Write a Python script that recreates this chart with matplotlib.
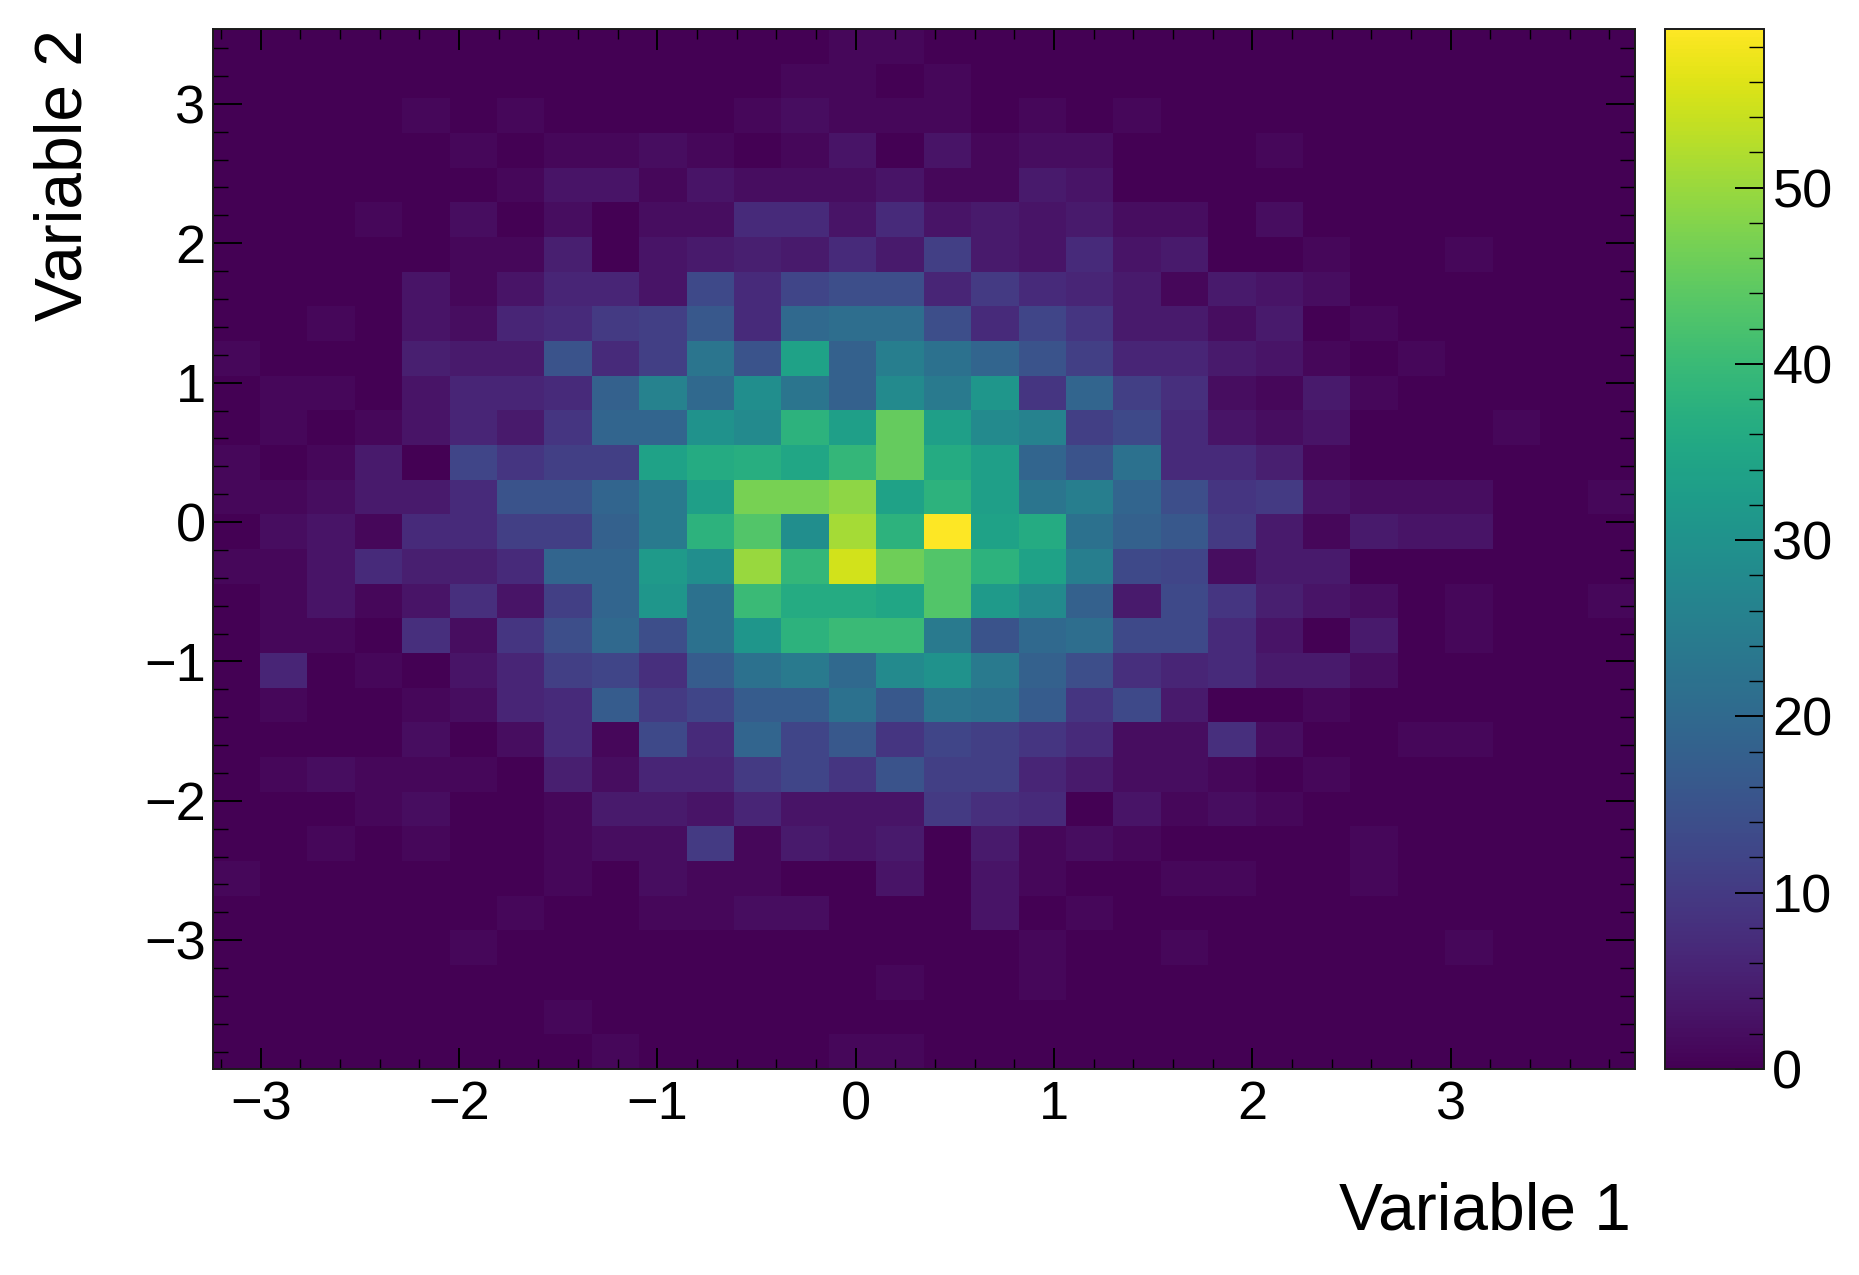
import numpy as np
import matplotlib
matplotlib.use("Agg")
import matplotlib.pyplot as plt
from matplotlib.ticker import MultipleLocator

plt.rcParams['font.family'] = ['Liberation Sans', 'DejaVu Sans']

# Counts per bin, top row first
counts = [
    [0,0,0,0,0,0,0,0,0,0,0,0,0,1,1,0,0,0,0,0,0,0,0,0,0,0,0,0,0,0],
    [0,0,0,0,0,0,0,0,0,0,0,0,1,1,0,1,0,0,0,0,0,0,0,0,0,0,0,0,0,0],
    [0,0,0,0,1,0,1,0,0,0,0,1,2,1,1,1,0,1,0,1,0,0,0,0,0,0,0,0,0,0],
    [0,0,0,0,0,1,0,1,1,2,1,0,1,3,0,3,1,2,2,0,0,0,1,0,0,0,0,0,0,0],
    [0,0,0,0,0,0,1,3,3,1,3,2,2,2,3,1,1,4,3,0,0,0,0,0,0,0,0,0,0,0],
    [0,0,0,1,0,2,0,2,0,2,2,7,7,3,7,3,4,3,4,2,2,0,2,0,0,0,0,0,0,0],
    [0,0,0,0,0,1,1,5,0,3,4,5,4,7,4,11,4,3,7,3,4,0,0,1,0,0,1,0,0,0],
    [0,0,0,0,3,1,3,6,6,3,13,7,12,14,14,6,10,7,6,4,1,4,3,2,0,0,0,0,0,0],
    [0,0,1,0,3,2,6,7,10,11,16,7,20,21,21,14,7,12,9,4,4,2,4,0,1,0,0,0,0,0],
    [1,0,0,0,5,4,4,15,7,11,23,15,34,18,25,22,19,15,11,6,6,4,3,1,0,1,0,0,0,0],
    [0,1,1,0,3,6,6,7,18,26,20,29,23,18,28,24,31,9,19,11,8,2,1,4,1,0,0,0,0,0],
    [0,1,0,1,3,6,4,9,19,19,30,28,38,33,45,33,28,26,11,13,7,3,2,3,0,0,0,1,0,0],
    [1,0,1,4,0,12,9,11,11,34,36,37,35,39,45,36,33,19,15,22,7,7,5,1,0,0,0,0,0,0],
    [1,1,2,4,4,7,15,15,19,24,33,47,47,49,34,38,33,23,25,19,14,9,10,3,2,2,2,0,0,1],
    [0,2,3,1,7,7,11,11,18,24,38,43,29,51,38,59,34,36,22,18,16,10,4,1,4,3,3,0,0,0],
    [1,1,3,7,5,5,7,19,19,32,29,50,39,55,46,43,38,34,25,13,12,2,4,4,0,0,0,0,0,0],
    [0,1,3,1,3,8,3,11,19,31,22,40,36,36,35,43,32,28,18,4,13,9,5,3,2,0,1,0,0,1],
    [0,1,1,0,8,2,9,14,20,14,22,31,38,40,40,24,15,20,21,13,13,7,3,0,4,0,1,0,0,0],
    [0,6,0,1,0,3,6,11,12,8,17,22,24,20,28,30,24,18,14,8,6,7,4,4,2,0,0,0,0,0],
    [0,1,0,0,1,2,6,7,17,10,12,17,17,22,16,23,22,17,9,13,4,0,0,1,0,0,0,0,0,0],
    [0,0,0,0,2,0,2,7,1,13,7,19,12,16,9,12,11,9,7,2,2,8,2,0,0,1,1,0,0,0],
    [0,1,2,1,1,1,0,5,2,6,6,10,12,9,15,11,11,6,4,2,2,1,0,1,0,0,0,0,0,0],
    [0,0,0,1,2,0,0,1,4,4,3,6,3,3,3,10,8,7,0,3,1,2,1,0,0,0,0,0,0,0],
    [0,0,1,0,1,0,0,1,2,2,10,1,4,3,4,0,4,1,2,1,0,0,0,0,1,0,0,0,0,0],
    [1,0,0,0,0,0,0,1,0,2,1,1,0,0,3,0,3,1,0,0,1,1,0,0,1,0,0,0,0,0],
    [0,0,0,0,0,0,1,0,0,1,1,2,2,0,0,0,3,0,1,0,0,0,0,0,0,0,0,0,0,0],
    [0,0,0,0,0,1,0,0,0,0,0,0,0,0,0,0,0,1,0,0,1,0,0,0,0,0,1,0,0,0],
    [0,0,0,0,0,0,0,0,0,0,0,0,0,0,1,0,0,1,0,0,0,0,0,0,0,0,0,0,0,0],
    [0,0,0,0,0,0,0,1,0,0,0,0,0,0,0,0,0,0,0,0,0,0,0,0,0,0,0,0,0,0],
    [0,0,0,0,0,0,0,0,1,0,0,0,0,1,1,0,0,0,0,0,0,0,0,0,0,0,0,0,0,0],
]
x_range = [-3.243, 3.93]
y_range = [-3.924, 3.537]
z_max = 59
x_label = "Variable 1"
y_label = "Variable 2"

W, H = 1859, 1275
fig = plt.figure(figsize=(W / 100, H / 100), dpi=100)
ax = fig.add_axes([212.5 / W, 1 - 1069 / H, (1635 - 212.5) / W, (1069 - 29) / H])
cax = fig.add_axes([1665 / W, 1 - 1069 / H, (1764 - 1665) / W, (1069 - 29) / H])

x_edges = np.linspace(x_range[0], x_range[1], 31)
y_edges = np.linspace(y_range[1], y_range[0], 31)
mesh = ax.pcolormesh(x_edges, y_edges, np.array(counts), cmap='viridis',
                     vmin=0, vmax=z_max, linewidth=0, rasterized=True)
ax.set_xlim(x_range)
ax.set_ylim(y_range)

# ROOT style ticks, pointing in on all four sides
ax.xaxis.set_major_locator(MultipleLocator(1))
ax.xaxis.set_minor_locator(MultipleLocator(0.2))
ax.yaxis.set_major_locator(MultipleLocator(1))
ax.yaxis.set_minor_locator(MultipleLocator(0.2))
ax.tick_params(axis='x', which='major', direction='in', top=True, length=15, width=1.4,
               labelsize=39, pad=8)
ax.tick_params(axis='x', which='minor', direction='in', top=True, length=7.5, width=1.0)
ax.tick_params(axis='y', which='major', direction='in', right=True, length=21, width=1.4,
               labelsize=39, pad=5)
ax.tick_params(axis='y', which='minor', direction='in', right=True, length=10.5, width=1.0)
for s in ax.spines.values():
    s.set_linewidth(1.4)
    s.set_color('#1a1a1a')

cb = fig.colorbar(mesh, cax=cax)
cb.solids.set_rasterized(True)
cb.set_ticks(np.arange(0, 51, 10))
cax.yaxis.set_minor_locator(MultipleLocator(2))
cax.tick_params(axis='y', which='major', direction='in', right=True, length=21, width=1.4,
                labelsize=39, pad=6)
cax.tick_params(axis='y', which='minor', direction='in', right=True, length=10.5, width=1.0)
cb.outline.set_linewidth(1.4)
cb.outline.set_edgecolor('#1a1a1a')

fig.text(1631 / W, 1 - 1212 / H, x_label, fontsize=47.4, ha='right', va='center')
fig.text(65 / W, 1 - 29 / H, y_label, fontsize=47.4, rotation=90, ha='center', va='top')

fig.savefig("out.png", dpi=100)
